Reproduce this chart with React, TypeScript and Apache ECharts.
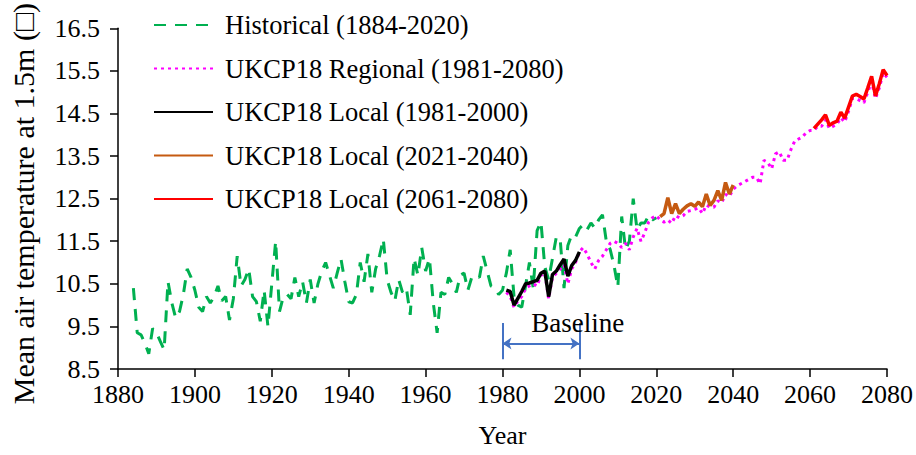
import React, { useEffect, useRef } from "react";
import * as echarts from "echarts";

// ---------- data ----------
const HIST_START = 1884;
const historical = [
  10.4, 9.35, 9.3, 9.1, 8.86, 9.45, 9.35, 9.15, 8.95, 10.55,
  10.05, 9.7, 9.85, 10.25, 10.85, 10.65, 10.35, 9.95, 9.85, 10.2,
  10.05, 10.2, 10.45, 10.1, 10.2, 9.65, 10.15, 11.15, 10.45, 10.6,
  10.85, 10.2, 10.08, 9.62, 10.35, 9.5, 10.5, 11.5, 9.85, 10.2,
  10.25, 10.15, 10.65, 10.2, 10.55, 10.05, 10.6, 10.05, 10.5, 10.8,
  11.0, 10.7, 10.4, 10.75, 11.08, 10.55, 10.08, 10.05, 10.25, 11.0,
  10.55, 11.2, 10.3, 10.85, 11.15, 11.55, 10.6, 10.3, 10.1, 10.6,
  10.3, 10.4, 9.77, 11.1, 10.7, 11.35, 10.8, 11.1, 10.05, 9.35,
  10.3, 10.25, 10.65, 10.5, 10.3, 10.7, 10.75, 10.35, 10.65, 10.7,
  10.65, 11.15, 10.8, 10.45, 10.4, 10.25, 10.35, 10.75, 11.3, 10.2,
  10.0, 9.95, 10.45, 11.0, 10.4, 11.75, 11.95, 10.9, 10.6, 11.1,
  11.6, 11.55, 10.4, 11.4, 11.65, 11.6, 11.8, 11.89, 11.77, 11.93,
  11.81, 12.0, 12.12, 11.5, 11.31, 10.93, 10.43, 12.08, 11.31, 11.5,
  12.5, 11.77, 11.93, 11.93, 12.1, 12.0, 12.05,
];

const REGIONAL_START = 1981;
const regional = [
  10.3, 10.2, 9.95, 10.1, 10.2, 10.4, 10.45, 10.5, 10.45, 10.7,
  10.75, 10.15, 10.65, 10.75, 10.85, 10.95, 10.5, 10.85, 11.0, 11.25,
  11.35, 11.2, 11.0, 10.85, 11.05, 11.15, 11.3, 11.45, 11.5, 11.45,
  11.35, 11.45, 11.3, 11.6, 11.8, 11.5, 11.7, 11.95, 12.05, 12.1,
  12.0, 11.95, 12.0, 11.92, 12.1, 12.05, 12.1, 12.2, 12.22, 12.25,
  12.28, 12.15, 12.35, 12.3, 12.3, 12.45, 12.4, 12.6, 12.55, 12.72,
  12.8, 12.85, 12.9, 12.95, 13.0, 13.0, 12.85, 13.4, 13.35, 13.2,
  13.55, 13.6, 13.4, 13.4, 13.65, 13.85, 13.9, 13.95, 14.05, 14.1,
  14.1, 14.2, 14.2, 14.35, 14.15, 14.2, 14.25, 14.4, 14.3, 14.55,
  14.85, 14.85, 14.8, 14.75, 15.0, 15.25, 14.85, 15.1, 15.45, 15.35,
];

const LOCAL1_START = 1981;
const local1 = [
  10.35, 10.32, 10.0, 10.16, 10.32, 10.5, 10.52, 10.55, 10.58, 10.75,
  10.8, 10.2, 10.72, 10.8, 10.95, 11.08, 10.68, 10.93, 11.05, 11.25,
];

const LOCAL2_START = 2021;
const local2 = [
  12.08, 12.15, 12.52, 12.15, 12.38, 12.15, 12.25, 12.33, 12.38, 12.32,
  12.42, 12.31, 12.61, 12.34, 12.46, 12.69, 12.46, 12.88, 12.61, 12.82,
];

const LOCAL3_START = 2061;
const local3 = [
  14.15, 14.25, 14.35, 14.47, 14.22, 14.28, 14.32, 14.53, 14.39, 14.65,
  14.91, 14.95, 14.9, 14.84, 15.1, 15.37, 14.91, 15.2, 15.53, 15.39,
];

const seriesNames = [
  "Historical (1884-2020)",
  "UKCP18 Regional (1981-2080)",
  "UKCP18 Local (1981-2000)",
  "UKCP18 Local (2021-2040)",
  "UKCP18 Local (2061-2080)",
];

const X_MIN = 1880;
const X_MAX = 2080;
const X_STEP = 20;
const Y_MIN = 8.5;
const Y_MAX = 16.5;
const Y_STEP = 1;

const baselineYears = [1980, 2000];
const baselineText = "Baseline";
const baselineTop = 9.58;
const baselineBottom = 8.73;
const baselineArrowY = 9.1;
const baselineTextYear = 1987.5;

const xName = "Year";
const yName = "Mean air temperature at 1.5m (\u25A1)";

const FONT = "Liberation Serif, Times New Roman, serif";

function pairs(start: number, vals: number[]) {
  return vals.map((v, i) => [start + i, v]);
}

export default function App() {
  const ref = useRef<HTMLDivElement>(null);

  useEffect(() => {
    if (!ref.current) return;
    const chart = echarts.init(ref.current, null, { renderer: "svg" });
    const tickText = { fontFamily: FONT, fontSize: 26, color: "#000", fontWeight: "normal" };
    const option: any = {
      animation: false,
      backgroundColor: "#ffffff",
      textStyle: { fontFamily: FONT, color: "#000" },
      grid: { left: 118, right: 25, top: 21, bottom: 86, containLabel: false },
      legend: {
        data: seriesNames,
        orient: "vertical",
        left: 148,
        top: 5,
        itemWidth: 59,
        itemHeight: 14,
        itemGap: 13.5,
        itemStyle: { color: "rgba(0,0,0,0)", borderWidth: 0, opacity: 0 },
        textStyle: {
          fontFamily: FONT,
          fontSize: 26.5,
          color: "#000",
          lineHeight: 30,
          padding: [0, 0, 0, 7],
        },
      },
      xAxis: {
        type: "value",
        min: X_MIN,
        max: X_MAX,
        interval: X_STEP,
        name: xName,
        nameLocation: "middle",
        nameGap: 53,
        nameTextStyle: { fontFamily: FONT, fontSize: 26, color: "#000" },
        axisLine: { show: true, lineStyle: { color: "#000", width: 1.5 } },
        axisTick: { show: true, inside: false, length: 8, lineStyle: { color: "#000", width: 1.5 } },
        axisLabel: {
          ...tickText,
          margin: 12,
          formatter: (v: number) => String(v),
        },
        splitLine: { show: false },
      },
      yAxis: {
        type: "value",
        min: Y_MIN,
        max: Y_MAX,
        interval: Y_STEP,
        name: yName,
        nameLocation: "middle",
        nameGap: 80,
        nameTextStyle: { fontFamily: FONT, fontSize: 30, color: "#000", padding: [0, 10, 0, 0] },
        axisLine: { show: true, lineStyle: { color: "#000", width: 1.5 } },
        axisTick: { show: true, inside: false, length: 8, lineStyle: { color: "#000", width: 1.5 } },
        axisLabel: {
          ...tickText,
          margin: 18,
          formatter: (v: number) => v.toFixed(1),
        },
        splitLine: { show: false },
      },
      series: [
        {
          name: seriesNames[0],
          type: "line",
          data: pairs(HIST_START, historical),
          symbol: "none",
          lineStyle: { color: "#00B050", width: 3, type: [12, 9] },
          itemStyle: { color: "#00B050" },
        },
        {
          name: seriesNames[1],
          type: "line",
          data: pairs(REGIONAL_START, regional),
          symbol: "none",
          lineStyle: { color: "#FF00FF", width: 3, type: [3, 4] },
          itemStyle: { color: "#FF00FF" },
        },
        {
          name: seriesNames[2],
          type: "line",
          data: pairs(LOCAL1_START, local1),
          symbol: "none",
          lineStyle: { color: "#000000", width: 3.5 },
          itemStyle: { color: "#000000" },
        },
        {
          name: seriesNames[3],
          type: "line",
          data: pairs(LOCAL2_START, local2),
          symbol: "none",
          lineStyle: { color: "#C55A11", width: 3.5 },
          itemStyle: { color: "#C55A11" },
        },
        {
          name: seriesNames[4],
          type: "line",
          data: pairs(LOCAL3_START, local3),
          symbol: "none",
          lineStyle: { color: "#FF0000", width: 3.5 },
          itemStyle: { color: "#FF0000" },
        },
        {
          name: "baseline-annotation",
          type: "line",
          data: [],
          silent: true,
          markLine: {
            silent: true,
            symbol: ["none", "none"],
            label: { show: false },
            lineStyle: { color: "#4472C4", width: 2, type: "solid" },
            emphasis: { disabled: true },
            data: [
              [
                { coord: [baselineYears[0], baselineTop] },
                { coord: [baselineYears[0], baselineBottom] },
              ],
              [
                { coord: [baselineYears[1], baselineTop] },
                { coord: [baselineYears[1], baselineBottom] },
              ],
              [
                { coord: [baselineYears[0], baselineArrowY], symbol: "arrow", symbolSize: 9 },
                { coord: [baselineYears[1], baselineArrowY], symbol: "arrow", symbolSize: 9 },
              ],
            ],
          },
          markPoint: {
            silent: true,
            symbol: "circle",
            symbolSize: 0,
            data: [{ coord: [baselineTextYear, baselineTop], value: baselineText }],
            label: {
              show: true,
              position: "right",
              distance: 0,
              formatter: baselineText,
              fontFamily: FONT,
              fontSize: 27,
              color: "#000",
            },
          },
        },
      ],
    };
    chart.setOption(option);
    return () => chart.dispose();
  }, []);

  return (
    <div
      ref={ref}
      style={{ position: "fixed", left: 0, top: 0, width: 916, height: 455, background: "#fff" }}
    />
  );
}
